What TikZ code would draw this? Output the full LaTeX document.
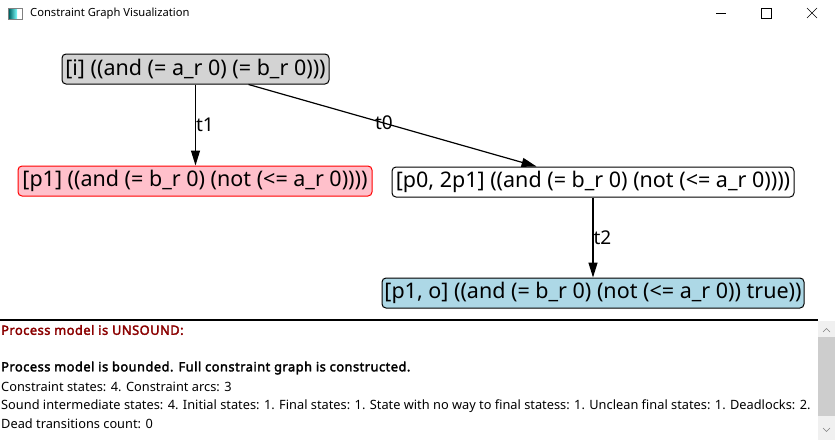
\documentclass[tikz,border=0pt]{standalone}
\usepackage{fontspec}
\setmainfont{Noto Sans}
\newfontfamily\reportbold{Noto Sans}[FakeBold=2.5, LetterSpace=4]
\usetikzlibrary{calc}
\usetikzlibrary{arrows.meta}

\definecolor{stategray}{RGB}{211,211,211}
\definecolor{statepink}{RGB}{255,192,203}
\definecolor{stateblue}{RGB}{173,216,230}
\definecolor{unsound}{RGB}{139,0,0}
\definecolor{scrolltrack}{RGB}{240,240,240}
\definecolor{scrollthumb}{RGB}{205,205,205}

\tikzset{
  state/.style={draw, rounded corners=4pt, line width=1pt, inner sep=0pt, minimum height=30pt, font=\fontsize{21.5}{24}\selectfont},
  arc/.style={line width=1.2pt, -{Triangle[length=15pt, width=9pt]}},
  arclabel/.style={font=\fontsize{19}{22}\selectfont, inner sep=0pt},
  report/.style={anchor=west, inner sep=0pt, font=\fontsize{12.8}{15}\selectfont},
}

\begin{document}
\begin{tikzpicture}[x=1pt, y=-1pt]
    \useasboundingbox (0,0) rectangle (835,440);
    \fill[white] (0,0) rectangle (835,440);

    % title bar
    \fill[left color=teal!80!black, right color=cyan!50] (9,9) rectangle (17,19);
    \draw[gray] (8.5,8.5) rectangle (22.5,19.5);
    \node[report, font=\fontsize{11.2}{14}\selectfont] (title) at (30,14) {Constraint Graph Visualization};
    \draw (716,13) -- (726,13);
    \draw (761.5,8.5) rectangle (771.5,18.5);
    \draw (807,8) -- (817,18) (817,8) -- (807,18);

    % constraint states
    \node[state, fill=stategray, minimum width=267pt] (i) at (195.5,69) {[i] ((and (= a\_r 0) (= b\_r 0)))};
    \node[state, fill=statepink, draw=red, minimum width=354pt] (p1) at (195,181) {[p1] ((and (= b\_r 0) (not (<= a\_r 0))))};
    \node[state, fill=white, minimum width=402pt] (p0) at (593,182) {[p0, 2p1] ((and (= b\_r 0) (not (<= a\_r 0))))};
    \node[state, fill=stateblue, minimum width=422pt] (p1o) at (593,293) {[p1, o] ((and (= b\_r 0) (not (<= a\_r 0)) true))};

    % constraint arcs
    \draw[arc] (i.south) -- (i.south |- p1.north) node[midway, right, arclabel] {t1};
    \draw[arc] ($(i.south west)!0.698!(i.south east)$) -- ($(p0.north west)!0.36!(p0.north east)$) node[pos=0.47, arclabel] {t0};
    \draw[arc] (p0.south) -- (p0.south |- p1o.north) node[midway, right, arclabel] {t2};

    % report panel
    \draw[line width=1.2pt] (0,320) -- (818,320);
    \fill[scrolltrack] (818,321) rectangle (835,440);
    \fill[scrollthumb] (818,337) rectangle (835,416);
    \draw[gray] (823,332) -- (826.5,328.5) -- (830,332);
    \draw[gray] (823,428) -- (826.5,431.5) -- (830,428);

    \node[report, text=unsound, font=\fontsize{12.8}{15}\reportbold] (r1) at (1,330) {Process model is UNSOUND:};
    \node[report, font=\fontsize{12.8}{15}\reportbold] (r2) at (1,368) {Process model is bounded. Full constraint graph is constructed.};
    \node[report] (r3) at (1,387) {Constraint states: 4. Constraint arcs: 3};
    \node[report] (r4) at (1,406) {Sound intermediate states: 4. Initial states: 1. Final states: 1. State with no way to final statess: 1. Unclean final states: 1. Deadlocks: 2.};
    \node[report] (r5) at (1,424) {Dead transitions count: 0};
\end{tikzpicture}
\end{document}
